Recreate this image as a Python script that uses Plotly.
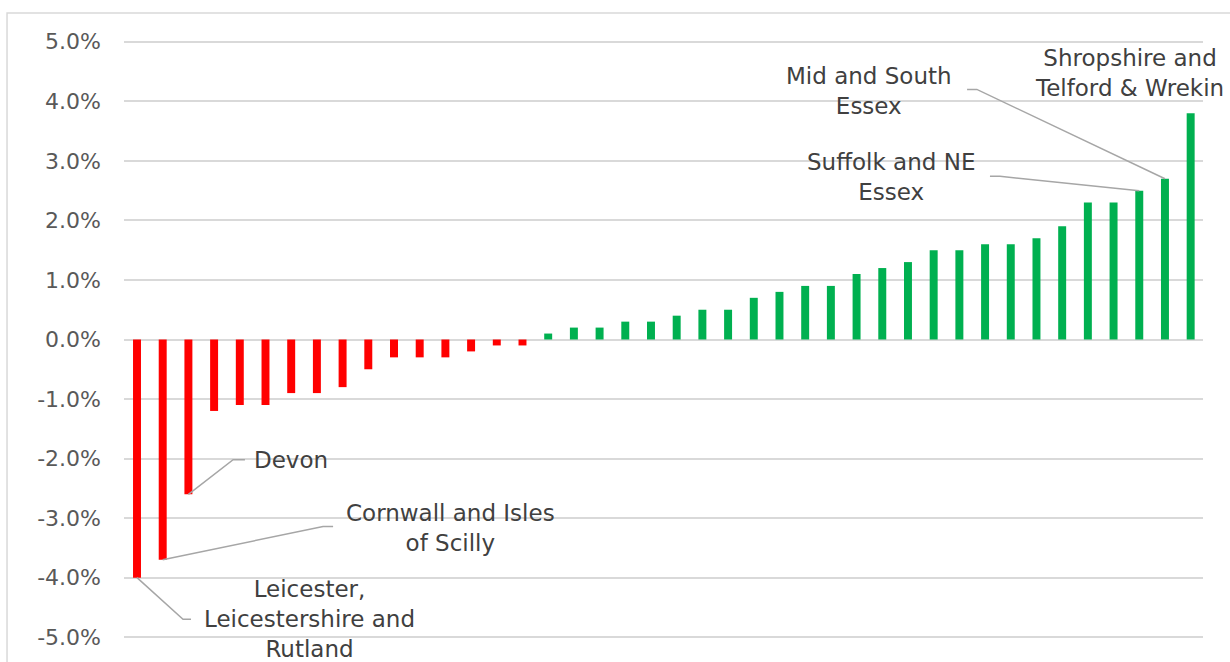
import plotly.graph_objects as go

# Percentage change by area, sorted ascending (42 areas)
values = [-4.0, -3.7, -2.6, -1.2, -1.1, -1.1, -0.9, -0.9, -0.8, -0.5, -0.3, -0.3, -0.3, -0.2, -0.1, -0.1,
          0.1, 0.2, 0.2, 0.3, 0.3, 0.4, 0.5, 0.5, 0.7, 0.8, 0.9, 0.9, 1.1, 1.2, 1.3, 1.5, 1.5, 1.6, 1.6,
          1.7, 1.9, 2.3, 2.3, 2.5, 2.7, 3.8]
positions = list(range(len(values)))
tick_vals = [-5, -4, -3, -2, -1, 0, 1, 2, 3, 4, 5]
tick_text = ["-5.0%", "-4.0%", "-3.0%", "-2.0%", "-1.0%", "0.0%", "1.0%", "2.0%", "3.0%", "4.0%", "5.0%"]

# Labelled areas: (bar index, label text, label x, label y, leader elbow x, elbow y, elbow end x)
labels = [
    (0, "Leicester,<br>Leicestershire and<br>Rutland", 6.73, -4.70, 1.79, -4.70, 2.10),
    (1, "Cornwall and Isles<br>of Scilly", 12.2, -3.16, 7.24, -3.14, 7.63),
    (2, "Devon", 6.01, -2.02, 3.74, -2.02, 4.20),
    (39, "Suffolk and NE<br>Essex", 29.32, 2.73, 33.58, 2.74, 33.19),
    (40, "Mid and South<br>Essex", 28.5, 4.17, 32.68, 4.20, 32.3),
    (41, "Shropshire and<br>Telford & Wrekin", 38.62, 4.48, None, None, None),
]

RED = "#ff0000"
GREEN = "#00b050"
colors = [RED if v < 0 else GREEN for v in values]

FONT = "DejaVu Sans"

fig = go.Figure()
fig.add_trace(go.Bar(x=positions, y=values, marker=dict(color=colors, line=dict(width=0)),
                     width=0.31, hoverinfo="skip"))

shapes = []
annotations = []
for idx, text, lx, ly, ex, ey, ex2 in labels:
    annotations.append(dict(x=lx, y=ly, xref="x", yref="y", text=text, showarrow=False,
                            xanchor="center", yanchor="middle",
                            font=dict(family=FONT, size=23, color="#404040")))
    if ex is not None:
        shapes.append(dict(type="path", xref="x", yref="y",
                           path=f"M {idx},{values[idx]} L {ex},{ey} L {ex2},{ey}",
                           line=dict(color="#a6a6a6", width=1.5)))

# outer chart border (left and top visible)
shapes.append(dict(type="path", xref="paper", yref="paper",
                   path="M -0.1084,-0.2 L -0.1084,1.0452 L 1.2,1.0452",
                   line=dict(color="#d9d9d9", width=1.5), layer="below"))

fig.update_layout(
    width=1230, height=662,
    margin=dict(l=124, r=27, t=40, b=20),
    paper_bgcolor="white", plot_bgcolor="white",
    showlegend=False,
    bargap=0.69,
    xaxis=dict(range=[-0.506, 41.48], showticklabels=False, showgrid=False, zeroline=False,
               showline=False, ticks=""),
    yaxis=dict(range=[-5.03, 5.03], tickvals=tick_vals, ticktext=tick_text,
               showgrid=True, gridcolor="#d9d9d9", gridwidth=1.5,
               zeroline=True, zerolinecolor="#d9d9d9", zerolinewidth=1.5,
               showline=False, ticks="", ticklabelstandoff=22,
               tickfont=dict(family=FONT, size=22, color="#595959")),
    shapes=shapes,
    annotations=annotations,
)

fig.write_html("out.html")
